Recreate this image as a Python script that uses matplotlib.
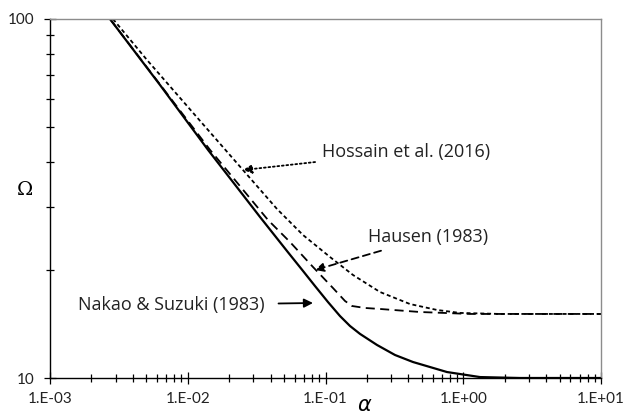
import matplotlib
matplotlib.use("Agg")
import matplotlib.pyplot as plt
from matplotlib.ticker import LogLocator, NullFormatter, FixedLocator, FixedFormatter

# Nakao & Suzuki (1983) - solid
alpha_ns = [0.002726, 0.006289, 0.01403, 0.03344, 0.05342, 0.06866, 0.08389, 0.1042, 0.1274,
            0.1506, 0.1780, 0.2365, 0.3196, 0.4316, 0.7621, 1.323, 2.582, 10]
omega_ns = [100, 65.5, 43.2, 28.1, 22.4, 19.87, 18.04, 16.28, 14.88,
            13.96, 13.27, 12.36, 11.59, 11.08, 10.39, 10.06, 10.0, 10.0]

# Hausen (1983) - long dash
alpha_h = [0.002726, 0.01451, 0.03825, 0.05526, 0.08115, 0.1133, 0.1385, 0.1557, 0.1935,
           0.2486, 0.4853, 1.119, 10]
omega_h = [100, 43.2, 27.55, 23.92, 20.38, 17.81, 16.39, 15.87, 15.67,
           15.57, 15.27, 15.08, 15.08]

# Hossain et al. (2016) - short dash
alpha_hs = [0.002866, 0.005060, 0.01129, 0.02518, 0.04445, 0.06866, 0.1078, 0.1584, 0.2486,
            0.4106, 0.6448, 0.9471, 1.849, 10]
omega_hs = [100, 76.9, 54.0, 37.96, 29.57, 25.02, 21.73, 19.36, 17.36,
            16.07, 15.47, 15.18, 15.08, 15.08]

x_ticks = [1e-3, 1e-2, 1e-1, 1e0, 1e1]
x_labels = ['1.E-03', '1.E-02', '1.E-01', '1.E+00', '1.E+01']
y_ticks = [10, 100]
y_labels = ['10', '100']

fig = plt.figure(figsize=(6.27, 4.17), dpi=100)
ax = fig.add_axes([50 / 627, 39 / 417, 551 / 627, 359 / 417])

ax.plot(alpha_ns, omega_ns, color='black', linewidth=1.6)
ax.plot(alpha_h, omega_h, color='black', linewidth=1.3, linestyle=(0, (5, 3)))
ax.plot(alpha_hs, omega_hs, color='black', linewidth=1.3, linestyle=(0, (2.2, 1.6)))

ax.set_xscale('log')
ax.set_yscale('log')
ax.set_xlim(1e-3, 1e1)
ax.set_ylim(10, 100)

ax.xaxis.set_major_locator(FixedLocator(x_ticks))
ax.xaxis.set_major_formatter(FixedFormatter(x_labels))
ax.xaxis.set_minor_locator(LogLocator(base=10, subs=range(2, 10), numticks=20))
ax.xaxis.set_minor_formatter(NullFormatter())
ax.yaxis.set_major_locator(FixedLocator(y_ticks))
ax.yaxis.set_major_formatter(FixedFormatter(y_labels))
ax.yaxis.set_minor_locator(LogLocator(base=10, subs=range(2, 10), numticks=20))
ax.yaxis.set_minor_formatter(NullFormatter())

ax.tick_params(which='major', direction='inout', length=8, width=0.9, color='black',
               labelsize=11, labelcolor='#222222')
ax.tick_params(which='minor', direction='inout', length=6, width=0.9, color='black')
ax.tick_params(axis='x', which='major', pad=6)
ax.tick_params(axis='y', which='major', pad=7)
for lab in ax.get_xticklabels() + ax.get_yticklabels():
    lab.set_fontfamily('Lato')

for side in ['left', 'bottom']:
    ax.spines[side].set_color('black')
    ax.spines[side].set_linewidth(1.0)
for side in ['top', 'right']:
    ax.spines[side].set_color('#8c8c8c')
    ax.spines[side].set_linewidth(1.0)

# axis symbols
fig.text(365 / 627, 1 - 405 / 417, r'$\alpha$', fontsize=15, ha='center', va='center')
fig.text(25 / 627, 1 - 190 / 417, 'Ω', fontsize=14, family='DejaVu Serif',
         ha='center', va='center')

txt = dict(fontsize=13, family='Open Sans', color='#222222', va='center')
head = '-|>,head_length=0.4,head_width=0.2'
ax.annotate('Hossain et al. (2016)', xy=(0.02518, 37.96), xytext=(322, 417 - 152),
            textcoords='figure pixels', ha='left',
            arrowprops=dict(arrowstyle=head, color='black', linestyle=(0, (1, 1.5)),
                            linewidth=1.3, shrinkA=3, shrinkB=0), **txt)
ax.annotate('Hausen (1983)', xy=(315, 417 - 270), xycoords='figure pixels',
            xytext=(368, 417 - 237), textcoords='figure pixels', ha='left',
            arrowprops=dict(arrowstyle=head, color='black', linestyle=(0, (4, 2.5)),
                            linewidth=1.3, shrinkA=5, shrinkB=0), **txt)
ax.annotate('Nakao & Suzuki (1983)', xy=(313, 417 - 303), xycoords='figure pixels',
            xytext=(78, 417 - 305), textcoords='figure pixels', ha='left',
            arrowprops=dict(arrowstyle=head, color='black', linewidth=1.3,
                            shrinkA=8, shrinkB=0), **txt)

fig.savefig('out.png', dpi=100, facecolor='white')
